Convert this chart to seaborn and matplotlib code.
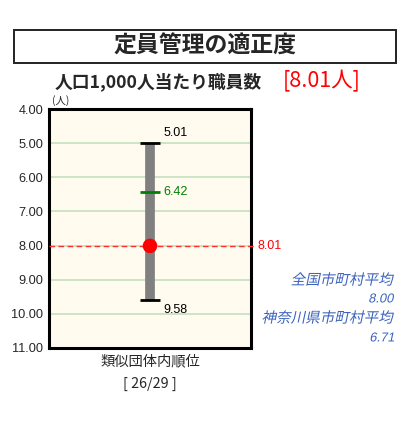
import matplotlib
matplotlib.use("Agg")
import matplotlib.pyplot as plt
import matplotlib.patches as patches
from matplotlib.textpath import TextPath
from matplotlib.font_manager import FontProperties
from matplotlib.transforms import Affine2D, IdentityTransform
import seaborn as sns
import pandas as pd

# data
range_min = 5.01
range_max = 9.58
median_val = 6.42
own_val = 8.01
nat_avg = 8.00
pref_avg = 6.71
rank_text = "[ 26/29 ]"
y_ticks = [4, 5, 6, 7, 8, 9, 10, 11]

W, H = 412, 426
DPI = 100
NUM_FONT = "Liberation Sans"


def fx(px):
    return px / W


def fy(py):
    return 1 - py / H


def italic_text(fig, x_right, y_center, s, size, color, family):
    # CJK fonts have no italic face, so shear the glyph outlines by hand
    prop = FontProperties(family=family, size=size)
    tp = TextPath((0, 0), s, size=size, prop=prop)
    tr = Affine2D().skew_deg(12, 0).scale(DPI / 72.0)
    ext = tr.transform_path(tp).get_extents()
    x0 = x_right - ext.x1
    y0 = (H - y_center) - (ext.y0 + ext.y1) / 2
    tr = tr.translate(x0, y0)
    fig.patches.append(patches.PathPatch(tr.transform_path(tp), facecolor=color,
                                         edgecolor="none", transform=IdentityTransform()))


def main():
    sns.set_style("white")
    plt.rcParams['font.family'] = ['Noto Sans CJK JP', 'DejaVu Sans']

    fig = plt.figure(figsize=(W / DPI, H / DPI), dpi=DPI)
    ax = fig.add_axes([fx(49), fy(348), fx(251) - fx(49), fy(109) - fy(348)])
    ax.set_facecolor("#fffbee")

    # grid lines
    for t in y_ticks[1:-1]:
        ax.axhline(t, color="#c6dfc0", lw=1.2, zorder=1)

    df = pd.DataFrame({"x": [0, 0], "y": [range_min, range_max]})
    sns.lineplot(data=df, x="x", y="y", color="#808080", lw=7,
                 ax=ax, zorder=2, solid_capstyle="butt", estimator=None)
    ax.hlines([range_min, range_max], -0.095, 0.095, color="black", lw=2, zorder=3)
    ax.hlines([median_val], -0.095, 0.095, color="#008000", lw=2, zorder=3)
    ax.axhline(own_val, color="#ff3030", lw=1, ls=(0, (4, 2.5)), zorder=3,
               xmax=1.02, clip_on=False)
    sns.scatterplot(x=[0], y=[own_val], color="#ff0000", s=110, ax=ax,
                    zorder=4, edgecolor="none")

    ax.text(0.13, range_min - 0.12, f"{range_min:.2f}", fontsize=9,
            va="bottom", ha="left", color="black", family=NUM_FONT)
    ax.text(0.13, median_val, f"{median_val:.2f}", fontsize=9,
            va="center", ha="left", color="#008000", family=NUM_FONT)
    ax.text(0.13, range_max + 0.12, f"{range_max:.2f}", fontsize=9,
            va="top", ha="left", color="black", family=NUM_FONT)
    ax.text(1.06, own_val, f"{own_val:.2f}", fontsize=9, va="center",
            ha="left", color="#ff0000", family=NUM_FONT)

    ax.set_xlim(-1, 1)
    ax.set_ylim(11, 4)
    ax.set_yticks(y_ticks)
    ax.set_yticklabels([f"{t:.2f}" for t in y_ticks], fontsize=9.2,
                       family=NUM_FONT)
    ax.set_xticks([])
    ax.set_xlabel("")
    ax.set_ylabel("")
    ax.tick_params(axis="y", length=0, pad=4)
    for s in ax.spines.values():
        s.set_color("black")
        s.set_linewidth(2.2)

    # title box
    fig.patches.append(patches.Rectangle((fx(14), fy(63)), fx(396) - fx(14),
                                         fy(30) - fy(63), transform=fig.transFigure,
                                         fill=False, edgecolor="#222222", lw=1.4))
    fig.text(fx(205), fy(46), "定員管理の適正度", fontsize=16.5, weight="bold",
             ha="center", va="center")
    fig.text(fx(55), fy(82), "人口1,000人当たり職員数", fontsize=12.8, weight="bold",
             ha="left", va="center")
    fig.text(fx(283), fy(81), "[8.01人]", fontsize=15.5, color="#ff0000",
             ha="left", va="center")
    fig.text(fx(52), fy(101), "(人)", fontsize=7.5, ha="left", va="center")

    fig.text(fx(150), fy(361), "類似団体内順位", fontsize=10.3, ha="center", va="center")
    fig.text(fx(150), fy(384), rank_text, fontsize=10.3, ha="center", va="center")

    blue = "#3b62bd"
    italic_text(fig, 394, 279, "全国市町村平均", 10.5, blue, "Noto Sans CJK JP")
    italic_text(fig, 394, 298, f"{nat_avg:.2f}", 9.3, blue, NUM_FONT)
    italic_text(fig, 394, 317, "神奈川県市町村平均", 10.5, blue, "Noto Sans CJK JP")
    italic_text(fig, 394, 337, f"{pref_avg:.2f}", 9.3, blue, NUM_FONT)

    fig.savefig("out.png", dpi=DPI)


if __name__ == '__main__':
    main()
